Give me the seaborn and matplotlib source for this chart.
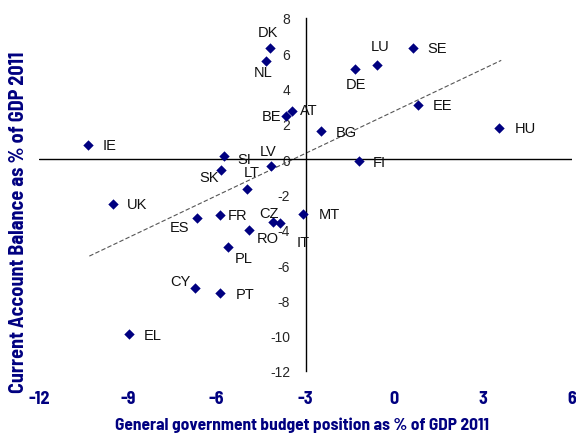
import matplotlib
matplotlib.use("Agg")
import matplotlib.pyplot as plt
import seaborn as sns
import pandas as pd
from matplotlib import font_manager

countries = ["DK", "NL", "BE", "AT", "IE", "SI", "LV", "SK", "LT", "UK", "ES", "FR", "CZ", "IT",
             "RO", "PL", "CY", "PT", "EL", "MT", "LU", "DE", "SE", "EE", "HU", "BG", "FI"]
budget = [-4.19, -4.32, -3.65, -3.45, -10.34, -5.74, -4.16, -5.84, -4.97, -9.49, -6.66, -5.88, -4.09, -3.85,
          -4.90, -5.61, -6.72, -5.88, -8.95, -3.07, -0.57, -1.32, 0.64, 0.81, 3.55, -2.47, -1.18]
current_account = [6.28, 5.55, 2.43, 2.72, 0.79, 0.17, -0.40, -0.62, -1.70, -2.55, -3.34, -3.17, -3.57, -3.62,
                   -4.02, -4.98, -7.30, -7.58, -9.90, -3.11, 5.32, 5.09, 6.28, 3.06, 1.75, 1.58, -0.11]
trend_x = [-10.3, 3.61]
trend_y = [-5.49, 5.6]
x_ticks = [-12, -9, -6, -3, 0, 3, 6]
y_ticks = [-12, -10, -8, -6, -4, -2, 0, 2, 4, 6, 8]

# label offsets in pixels (dx, dy)
offsets = {
    "DK": (-2, 16), "NL": (-3, -11), "BE": (-15, 0), "AT": (17, 1), "IE": (21, 0), "SI": (20, -3),
    "LV": (-3, 15), "SK": (-12, -7), "LT": (5, 17), "UK": (24, 0), "ES": (-18, -9), "FR": (17, 0),
    "CZ": (-4, 9), "IT": (23, -19), "RO": (19, -8), "PL": (15, -11), "CY": (-15, 7), "PT": (25, -1),
    "EL": (23, -1), "MT": (26, 0), "LU": (3, 19), "DE": (1, -15), "SE": (24, 0), "EE": (24, 0),
    "HU": (26, 0), "BG": (25, -1), "FI": (20, -1),
}

df = pd.DataFrame({"country": countries, "budget": budget, "ca": current_account})

sns.set_style("white")
names = {f.name for f in font_manager.fontManager.ttflist}
narrow = "Barlow Semi Condensed" if "Barlow Semi Condensed" in names else "Liberation Sans"
narrow_reg = "Archivo Narrow" if "Archivo Narrow" in names else narrow
plt.rcParams["font.family"] = ["Liberation Sans", "DejaVu Sans"]

navy = "#000080"
fig = plt.figure(figsize=(5.76, 4.39), dpi=100)
ax = fig.add_axes([39 / 576, 1 - 372 / 439, (572 - 39) / 576, (372 - 19) / 439])

ax.plot(trend_x, trend_y, color="#555555", lw=0.8, ls=(0, (4, 2)), zorder=1)
ax.axhline(0, color="black", lw=1, zorder=1)
sns.scatterplot(data=df, x="budget", y="ca", marker="D", color=navy, s=28,
                edgecolor=navy, linewidth=0, ax=ax, zorder=3)

for c, x, y in zip(countries, budget, current_account):
    dx, dy = offsets[c]
    ax.annotate(c, (x, y), xytext=(dx, dy), textcoords="offset pixels",
                ha="center", va="center", fontsize=10.5, color="#111111", zorder=4)

ax.set_xlim(-12, 6)
ax.set_ylim(-12, 8)
ax.set_xticks(x_ticks)
ax.set_yticks(y_ticks)
ax.set_xticklabels([str(v) for v in x_ticks], fontfamily=narrow, fontweight="bold",
                   fontsize=13, color=navy)
ax.set_yticklabels([str(v) for v in y_ticks], fontfamily=narrow_reg, fontsize=13, color=navy)

for s in ["top", "right", "bottom"]:
    ax.spines[s].set_visible(False)
ax.spines["left"].set_position(("data", -3))
ax.spines["left"].set_color("black")
ax.spines["left"].set_linewidth(1)
ax.tick_params(axis="y", length=0, pad=11)
ax.tick_params(axis="x", length=0, pad=14)

ax.set_xlabel("General government budget position as % of GDP 2011", fontfamily=narrow,
              fontweight="bold", fontsize=12.5, color=navy)
ax.set_ylabel("Current Account Balance as % of GDP 2011", fontfamily=narrow,
              fontweight="bold", fontsize=14.5, color=navy)
ax.xaxis.set_label_coords(0.493, -0.128)
ax.yaxis.set_label_coords(-0.02, 0.425)

fig.savefig("out.png", dpi=100)
